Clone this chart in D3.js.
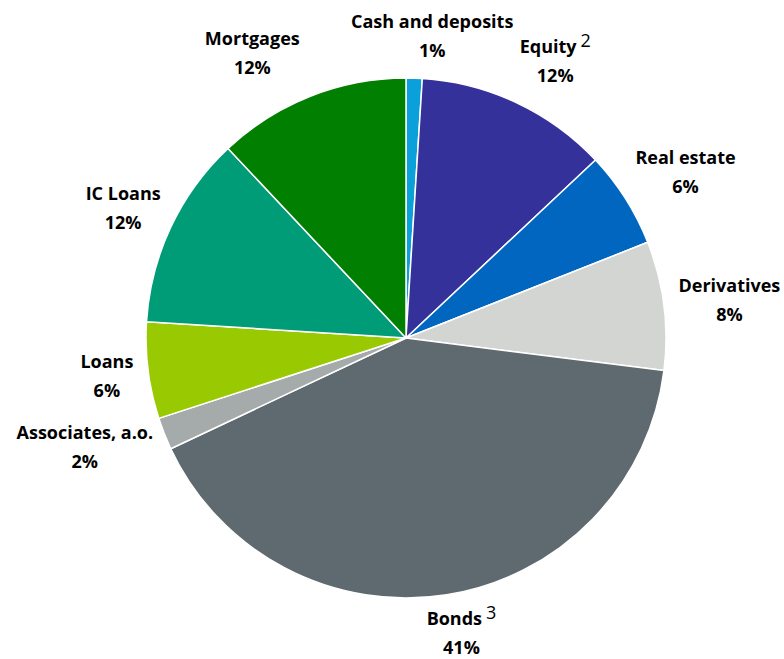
<!DOCTYPE html>
<html>
<head>
<meta charset="utf-8">
<script src="https://cdn.jsdelivr.net/npm/d3@7"></script>
<style>
  html, body { margin: 0; padding: 0; background: #fff; }
  svg text { font-family: "Open Sans", "Liberation Sans", sans-serif; fill: #000; }
</style>
</head>
<body>
<svg id="chart" width="784" height="659"></svg>
<script>
// Portfolio composition, clockwise from 12 o'clock
const categories = ["Cash and deposits", "Equity", "Real estate", "Derivatives", "Bonds",
                    "Associates, a.o.", "Loans", "IC Loans", "Mortgages"];
const shares = [1, 12, 6, 8, 41, 2, 6, 12, 12];
const footnotes = ["", "2", "", "", "3", "", "", "", ""];
const colors = ["#0AA0DA", "#35319A", "#0066C0", "#D3D5D3", "#5E6A70",
                "#A5AAAB", "#99C900", "#009B77", "#007F00"];

const svg = d3.select("#chart");
const cx = 406, cy = 338, R = 260;

const data = categories.map((c, i) => ({ name: c, value: shares[i], note: footnotes[i], color: colors[i] }));

const pie = d3.pie().value(d => d.value).sort(null);
const arc = d3.arc().innerRadius(0).outerRadius(R);
const arcs = pie(data);

const g = svg.append("g").attr("transform", `translate(${cx},${cy})`);

g.selectAll("path.slice")
  .data(arcs)
  .join("path")
  .attr("class", "slice")
  .attr("d", arc)
  .attr("fill", d => d.data.color)
  .attr("stroke", "#fff")
  .attr("stroke-width", 1.5)
  .attr("stroke-linejoin", "round");

// Outside-end labels: box placed beyond the rim along the mid-angle,
// with a few hand nudges to keep crowded labels apart
const nudges = {
  "Cash and deposits": [15, -1],
  "Equity": [17, -4],
  "Real estate": [5, -4],
  "Mortgages": [-35, -5],
  "Bonds": [7, 0],
  "IC Loans": [0, -2],
  "Associates, a.o.": [-2, -2]
};
const fontSize = 18, lineGap = 29;

const labels = g.selectAll("g.label")
  .data(arcs)
  .join("g")
  .attr("class", "label");

labels.each(function(d) {
  const sel = d3.select(this);
  const t1 = sel.append("text")
    .attr("text-anchor", "middle")
    .attr("font-size", fontSize)
    .attr("font-weight", "bold");
  t1.append("tspan").text(d.data.name);
  if (d.data.note) {
    t1.append("tspan")
      .attr("font-weight", "normal")
      .attr("dx", 4)
      .attr("dy", -6)
      .attr("font-size", fontSize)
      .text(d.data.note);
  }
  const t2 = sel.append("text")
    .attr("text-anchor", "middle")
    .attr("font-size", fontSize)
    .attr("font-weight", "bold")
    .attr("y", lineGap)
    .text(d3.format(".0f")(d.data.value) + "%");

  const b1 = t1.node().getBBox();
  const w = Math.max(b1.width, t2.node().getBBox().width);
  const h = lineGap + fontSize * 1.3;
  const a = (d.startAngle + d.endAngle) / 2;
  const r0 = R + 15;
  const px = Math.sin(a) * r0 + Math.sin(a) * w / 2;
  const py = -Math.cos(a) * r0 - Math.cos(a) * h / 2;
  const n = nudges[d.data.name] || [0, 0];
  // keep the second line inside the drawing area
  const x = px + n[0];
  let y = py + n[1] - lineGap / 2 + fontSize * 0.35;
  const maxBaseline = svg.attr("height") - cy - 5 - lineGap;
  y = Math.min(y, maxBaseline);
  sel.attr("transform", `translate(${x},${y})`);
});
</script>
</body>
</html>
